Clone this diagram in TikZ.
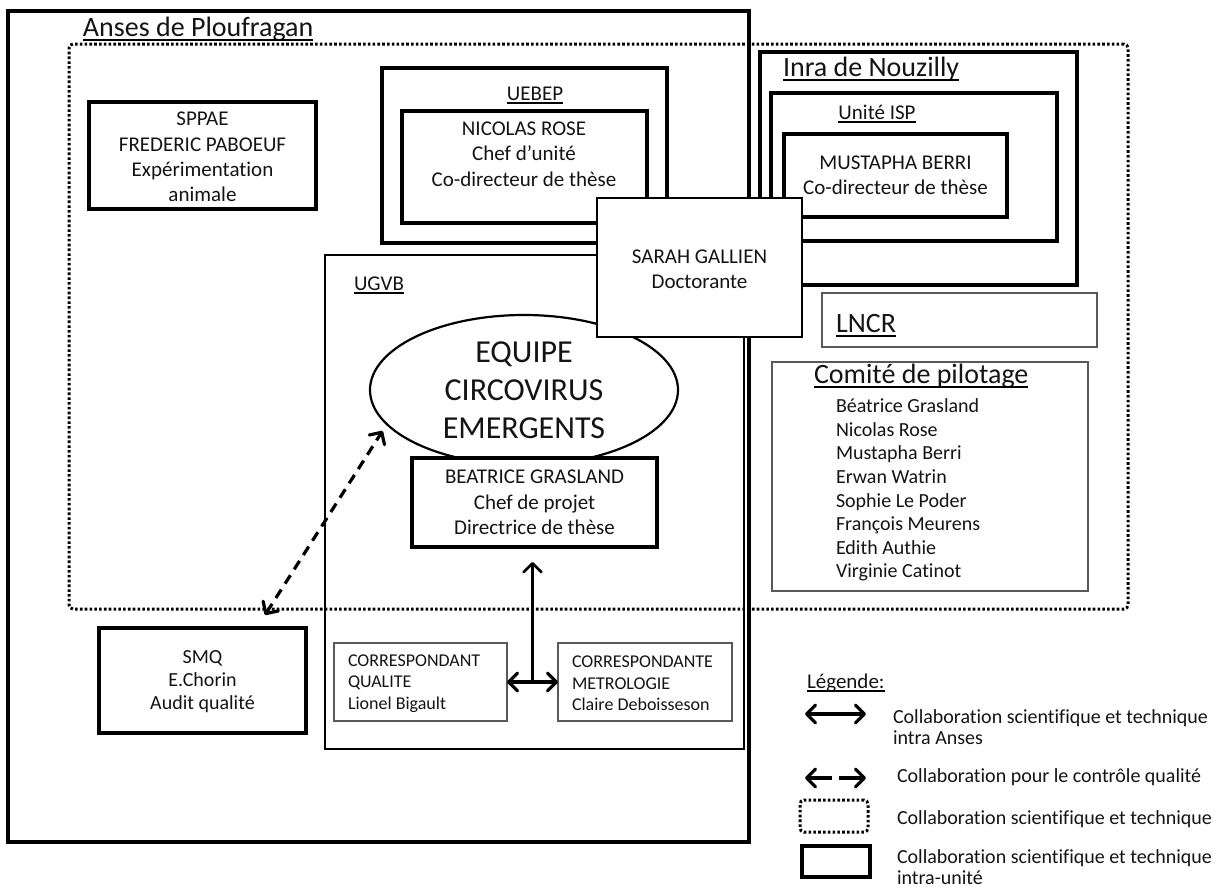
\documentclass[tikz,border=0pt]{standalone}
\usepackage{fontspec}
\setmainfont{Carlito}[Ligatures=NoCommon]
\usetikzlibrary{arrows.meta,fit,shapes.geometric,calc}
\begin{document}
\begin{tikzpicture}[x=0.5pt,y=-0.5pt,
  every node/.style={inner sep=0pt, outer sep=0pt, text=black!92},
  bigbox/.style={draw=black, line width=1.8pt},
  thickbox/.style={draw=black, line width=1.6pt},
  medbox/.style={draw=black, line width=1.25pt},
  thinbox/.style={draw=black!65, line width=0.8pt},
  whitefill/.style={fill=white},
  dotbox/.style={draw=black, line width=1.5pt, dash pattern=on 1.3pt off 1.1pt, rounded corners=2pt},
  titletxt/.style={font=\fontsize{14}{16}\selectfont},
  bodytxt/.style={font=\fontsize{10.5}{12.65}\selectfont, align=center},
  smalltxt/.style={font=\fontsize{10}{11.8}\selectfont, align=left},
  smqtxt/.style={font=\fontsize{10}{11.5}\selectfont, align=center},
  corrtxt/.style={font=\fontsize{9}{10.75}\selectfont, align=left},
  legtxt/.style={font=\fontsize{10}{10.6}\selectfont, align=left},
  bigtxt/.style={font=\fontsize{16}{19}\selectfont, align=center},
  ulbig/.style={append after command={([yshift=-1.75pt]\tikzlastnode.base west) edge[draw=black, line width=1pt] ([yshift=-1.75pt]\tikzlastnode.base east)}},
  ulsmall/.style={append after command={([yshift=-1.4pt]\tikzlastnode.base west) edge[draw=black, line width=0.85pt] ([yshift=-1.4pt]\tikzlastnode.base east)}},
  barbs/.style={arrows={Straight Barb[length=4.5pt,width=9pt,round]-Straight Barb[length=4.5pt,width=9pt,round]}},
  barbend/.style={arrows={-Straight Barb[length=4.5pt,width=9pt,round]}},
  solidarrow/.style={draw=black, line width=1.6pt},
  dasharrow/.style={draw=black, line width=1.6pt, dash pattern=on 5pt off 3.5pt}
]
\useasboundingbox[fill=white] (0,0) rectangle (1223,889);

% Anses de Ploufragan
\node[bigbox, fit={(8,11)(749,842)}] (anses) {};
\node[titletxt, anchor=base west, ulbig] (ansesT) at (83,36) {Anses de Ploufragan};

% collaboration (dotted)
\node[dotbox, fit={(69,44)(1128,609)}] (collab) {};

% SPPAE
\node[thickbox, fit={(89,102)(316,209)}] (sppae) {};
\node[bodytxt] (sppaeT) at (202.5,157) {SPPAE\\FREDERIC PABOEUF\\Expérimentation\\animale};

% UEBEP
\node[thickbox, fit={(382,68)(667,243)}] (uebep) {};
\node[bodytxt, anchor=base, ulsmall] (uebepT) at (535,100) {UEBEP};
\node[thickbox, fit={(402,111)(647,223)}] (rose) {};
\node[bodytxt] (roseT) at (524,154) {NICOLAS ROSE\\Chef d’unité\\Co-directeur de thèse};

% Inra
\node[thickbox, fit={(760,52)(1077,285)}] (inra) {};
\node[titletxt, anchor=base west, ulbig] (inraT) at (783,76) {Inra de Nouzilly};
\node[thickbox, fit={(771,93)(1057,241)}] (isp) {};
\node[bodytxt, anchor=base, ulsmall] (ispT) at (877,119) {Unité ISP};
\node[thickbox, fit={(784,134)(1007,217)}] (berri) {};
\node[bodytxt] (berriT) at (895.5,175.5) {MUSTAPHA BERRI\\Co-directeur de thèse};

% UGVB
\node[medbox, fit={(325,255)(744,749)}] (ugvb) {};
\node[bodytxt, anchor=base west, ulsmall] (ugvbT) at (354,290) {UGVB};

% Equipe
\node[draw=black, line width=1.1pt, fill=white, ellipse, minimum width=154pt, minimum height=75pt, bigtxt] (eq) at (524,390) {EQUIPE\\CIRCOVIRUS\\EMERGENTS};

% Beatrice
\node[thickbox, whitefill, fit={(412,458)(657,547)}] (bea) {};
\node[bodytxt] (beaT) at (534.5,502.5) {BEATRICE GRASLAND\\Chef de projet\\Directrice de thèse};

% Sarah
\node[medbox, whitefill, fit={(597,198)(802,337)}] (sarah) {};
\node[bodytxt] (sarahT) at (699.5,269) {SARAH GALLIEN\\Doctorante};

% LNCR
\node[thinbox, fit={(822,293)(1097,347)}] (lncr) {};
\node[titletxt, anchor=base west, ulbig] (lncrT) at (836,332) {LNCR};

% Comite de pilotage
\node[thinbox, fit={(772,362)(1088,591)}] (copil) {};
\node[titletxt, anchor=base west, ulbig] (copilT) at (814,383) {Comité de pilotage};
\node[smalltxt, anchor=west] (copilL) at (836,490) {Béatrice Grasland\\Nicolas Rose\\Mustapha Berri\\Erwan Watrin\\Sophie Le Poder\\François Meurens\\Edith Authie\\Virginie Catinot};

% SMQ
\node[thickbox, fit={(99,628)(306,733)}] (smq) {};
\node[smqtxt] (smqT) at (202.5,682) {SMQ\\E.Chorin\\Audit qualité};

% Correspondants
\node[thinbox, fit={(334,643)(507,721)}] (cq) {};
\node[corrtxt, anchor=west] (cqT) at (348,683.5) {CORRESPONDANT\\QUALITE\\Lionel Bigault};
\node[thinbox, fit={(558,643)(732,721)}] (cm) {};
\node[corrtxt, anchor=west] (cmT) at (572,683.5) {CORRESPONDANTE\\METROLOGIE\\Claire Deboisseson};

% connectors
\draw[solidarrow, barbs] (cq.east) -- (cm.west);
\path (cq.east) -- (cm.west) coordinate[midway] (mid);
\draw[solidarrow, line width=1.3pt, barbend, shorten >=7.5pt] (mid) -- (mid |- bea.south);
\coordinate (dA) at ([xshift=-20.5pt, yshift=6.5pt]smq.north east);
\draw[dasharrow, barbs, shorten >=4pt] (dA) -- (eq.194);

% Legend
\node[font=\fontsize{10.5}{12}\selectfont, anchor=base west, ulsmall] (legT) at (807,688) {Légende:};
\coordinate (l1a) at (805,714);
\coordinate (l1b) at (866,714);
\draw[solidarrow, barbs] (l1a) -- (l1b);
\node[legtxt, anchor=west] (l1T) at (893,727.5) {Collaboration scientifique et technique\\intra Anses};
\coordinate (l2a) at (805,778);
\coordinate (l2b) at (832,778);
\coordinate (l2c) at (839,778);
\coordinate (l2d) at (866,778);
\draw[solidarrow, barbend] (l2b) -- (l2a);
\draw[solidarrow, barbend] (l2c) -- (l2d);
\node[legtxt, anchor=west] (l2T) at (897,777) {Collaboration pour le contrôle qualité};
\node[dotbox, fit={(800,800)(868,832)}] (l3) {};
\node[legtxt, anchor=west] (l3T) at (897,819) {Collaboration scientifique et technique};
\node[thickbox, fit={(802,846)(870,877)}] (l4) {};
\node[legtxt, anchor=west] (l4T) at (897,867) {Collaboration scientifique et technique\\intra-unité};
\end{tikzpicture}
\end{document}
